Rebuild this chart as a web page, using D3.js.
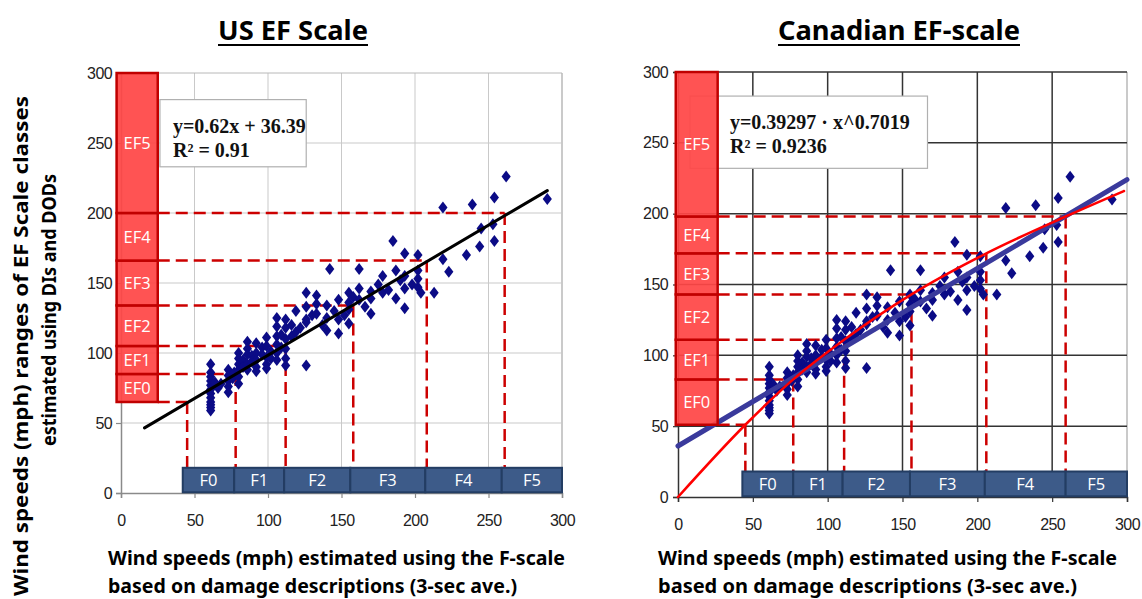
<!DOCTYPE html>
<html>
<head>
<meta charset="utf-8">
<script src="https://cdnjs.cloudflare.com/ajax/libs/d3/7.8.5/d3.min.js"></script>
<style>
  body { margin: 0; background: #fff; }
  svg { display: block; }
</style>
</head>
<body>
<div id="wrapper"></div>
<script>
// damage survey points: F-scale estimate (x) vs EF-scale estimate (y), mph
const fSpeed = [61,61,61,61,61,61,61,61,61,61,61,61, 64,66,68, 73,73,73,73,73, 76,77,
  80,80,80,80,80,80, 83,83, 86,86,86,86,86, 89,89, 92,92,92,92,92, 96,96,
  99,99,99,99,99, 102,102, 106,106,106,106,106,106, 109,109, 112,112,112,112,112,112,
  116,116, 119,119, 122, 126,126,126,126,126, 130, 133,133,133, 137, 140,140,140, 142, 145,
  148,148,148, 152, 155,155,155,155, 158, 162,162,162, 166, 170,170,170, 175, 178,178, 182,
  185, 187,187, 190, 193,193,193,193, 198, 202,202,202,202, 204, 213, 219,219, 223, 235,
  239, 244, 245, 253, 254,254, 262, 290];
const efSpeed = [92,86,83,80,77,74,71,68,65,63,61,59, 79,75,78, 88,84,80,76,72, 82,86,
  100,96,92,88,83,78, 95,90, 108,103,99,92,88, 98,94, 107,100,95,90,87, 104,99,
  111,105,97,92,89, 101,96, 125,119,112,106,100,95, 113,104, 124,118,110,103,96,91,
  120,112, 130,115, 118, 143,133,124,122,91, 127, 141,135,128, 120, 134,125,116, 160, 130,
  138,124,114, 127, 143,136,131,121, 140, 160,146,138, 133, 144,139,128, 149, 155,143, 145,
  180, 159,139, 152, 171,155,146,132, 149, 170,159,153,147, 143, 143, 204,167, 158, 170,
  206, 176, 189, 192, 211,180, 226, 210];

const tickValues = [0, 50, 100, 150, 200, 250, 300];
const fLabels = ["F0", "F1", "F2", "F3", "F4", "F5"];
const efLabels = ["EF0", "EF1", "EF2", "EF3", "EF4", "EF5"];

// US panel
const usFBoxEdges = [42, 77, 111, 156, 207, 259, 300];
const usFLines = [45, 78, 112, 158, 208, 261];
const usEFEdges = [65, 85, 105, 134, 166, 200, 300];
const usFitX = [16, 290];
const usFitY = [46.5, 216];

// Canadian panel
const caFBoxEdges = [43, 77, 110, 155, 205, 259, 300];
const caFLines = [45, 77, 111, 156, 206, 259];
const caEFEdges = [51, 83, 111, 143, 172, 198, 300];
const caLinX = [0, 300];
const caLinY = [36, 224];
const caPowX = [0, 45, 77, 111, 156, 206, 259, 298];
const caPowY = [0, 51, 83, 111, 143, 172, 198, 216];

const svg = d3.select("#wrapper").append("svg")
  .attr("width", 1142).attr("height", 599);

const diamond = "M0,-6L4.6,0L0,6L-4.6,0Z";
const dash = "12,6";
const red = "#cc0000";

function drawPanel(p) {
  const x = d3.scaleLinear().domain([0, 300]).range(p.xRange);
  const y = d3.scaleLinear().domain([0, 300]).range(p.yRange);
  const g = svg.append("g");

  // grid
  g.append("g").selectAll("line").data(tickValues.slice(1)).join("line")
    .attr("x1", d => x(d)).attr("x2", d => x(d))
    .attr("y1", y(0)).attr("y2", y(300))
    .attr("stroke", d => d === 300 ? "#b8b8b8" : p.grid)
    .attr("stroke-width", d => d === 300 ? 1.5 : p.gridWidth);
  g.append("g").selectAll("line").data(tickValues.slice(1)).join("line")
    .attr("x1", x(0)).attr("x2", x(300))
    .attr("y1", d => y(d)).attr("y2", d => y(d))
    .attr("stroke", d => d === 300 ? p.topLine : p.grid)
    .attr("stroke-width", p.gridWidth);

  // axes
  const xAxis = g.append("g")
    .attr("transform", `translate(0,${y(0)})`)
    .call(d3.axisBottom(x).tickValues(tickValues).tickSize(5).tickPadding(17));
  const yAxis = g.append("g")
    .attr("transform", `translate(${x(0)},0)`)
    .call(d3.axisLeft(y).tickValues(tickValues).tickSize(5).tickPadding(p.yPad));
  [xAxis, yAxis].forEach(a => {
    a.select(".domain").attr("stroke", p.axis).attr("stroke-width", 1.5);
    a.selectAll(".tick line").attr("stroke", p.axis).attr("stroke-width", 1.2);
    a.selectAll(".tick text")
      .attr("font-family", "Liberation Sans, Arial, sans-serif")
      .attr("font-size", 16).attr("fill", "#222")
      .attr("letter-spacing", -0.6);
  });

  // equation box (behind the EF column)
  const eq = p.eqBox;
  g.append("rect")
    .attr("x", x(eq[0])).attr("y", y(eq[2]))
    .attr("width", x(eq[1]) - x(eq[0])).attr("height", y(eq[3]) - y(eq[2]))
    .attr("fill", "#fff").attr("stroke", "#b0b0b0").attr("stroke-width", 1.2);

  // dashed guides
  const efRight = x(p.efCol[1]);
  const guides = g.append("g").attr("stroke", red).attr("stroke-width", 2.5)
    .attr("stroke-dasharray", dash).attr("fill", "none");
  guides.selectAll(".h").data(p.fLines).join("line").attr("class", "h")
    .attr("x1", efRight).attr("x2", d => x(d))
    .attr("y1", (d, i) => y(p.efEdges[i])).attr("y2", (d, i) => y(p.efEdges[i]));
  guides.selectAll(".v").data(p.fLines).join("line").attr("class", "v")
    .attr("x1", d => x(d)).attr("x2", d => x(d))
    .attr("y1", (d, i) => y(p.efEdges[i])).attr("y2", y(18));

  // scatter
  g.append("g").selectAll("path").data(fSpeed).join("path")
    .attr("d", diamond)
    .attr("transform", (d, i) => `translate(${x(d)},${y(efSpeed[i])})`)
    .attr("fill", "#0b0b86");

  // fitted lines
  p.fits.forEach(f => {
    const line = d3.line().x(d => x(d[0])).y(d => y(d[1])).curve(d3.curveMonotoneX);
    g.append("path").datum(d3.zip(f.xs, f.ys))
      .attr("d", line).attr("fill", "none")
      .attr("stroke", f.color).attr("stroke-width", f.width)
      .attr("stroke-linecap", "round");
  });

  // EF column
  const efG = g.append("g");
  efG.selectAll("rect").data(efLabels).join("rect")
    .attr("x", x(p.efCol[0])).attr("width", x(p.efCol[1]) - x(p.efCol[0]))
    .attr("y", (d, i) => y(p.efEdges[i + 1]))
    .attr("height", (d, i) => y(p.efEdges[i]) - y(p.efEdges[i + 1]))
    .attr("fill", "#ff4646").attr("fill-opacity", 0.93)
    .attr("stroke", "#c00000").attr("stroke-width", 2.5);
  efG.selectAll("text").data(efLabels).join("text")
    .attr("x", (x(p.efCol[0]) + x(p.efCol[1])) / 2)
    .attr("y", (d, i) => (y(p.efEdges[i]) + y(p.efEdges[i + 1])) / 2)
    .attr("dy", "0.36em").attr("text-anchor", "middle")
    .attr("font-family", "Open Sans, sans-serif").attr("font-size", 16.5)
    .attr("fill", "#fff").text(d => d);

  // F band
  const fG = g.append("g");
  fG.selectAll("rect").data(fLabels).join("rect")
    .attr("x", (d, i) => x(p.fEdges[i]))
    .attr("width", (d, i) => x(p.fEdges[i + 1]) - x(p.fEdges[i]))
    .attr("y", y(18)).attr("height", y(0.5) - y(18))
    .attr("fill", "#3d5b89").attr("stroke", "#233d63").attr("stroke-width", 2);
  fG.selectAll("text").data(fLabels).join("text")
    .attr("x", (d, i) => (x(p.fEdges[i]) + x(p.fEdges[i + 1])) / 2)
    .attr("y", (y(0.5) + y(18)) / 2).attr("dy", "0.36em")
    .attr("text-anchor", "middle")
    .attr("font-family", "Open Sans, sans-serif").attr("font-size", 16.5)
    .attr("fill", "#fff").text(d => d);

  // equation text
  p.eqText.forEach((t, i) => {
    g.append("text")
      .attr("x", x(eq[0]) + p.eqPad).attr("y", y(eq[2]) + 33 + i * 24)
      .attr("font-family", "Liberation Serif, Times New Roman, serif")
      .attr("font-weight", "bold").attr("font-size", 20).attr("fill", "#111")
      .text(t);
  });

  // title
  svg.append("text")
    .attr("x", p.titleX).attr("y", 40).attr("text-anchor", "middle")
    .attr("font-family", "Noto Sans, sans-serif").attr("font-weight", "bold")
    .attr("font-size", 27).attr("textLength", p.titleW)
    .attr("lengthAdjust", "spacingAndGlyphs").text(p.title);
  svg.append("line")
    .attr("x1", p.titleX - p.titleW / 2).attr("x2", p.titleX + p.titleW / 2)
    .attr("y1", 45).attr("y2", 45).attr("stroke", "#000").attr("stroke-width", 2);

  // x axis title (two lines)
  p.xTitle.forEach((t, i) => {
    svg.append("text")
      .attr("x", p.xTitleX).attr("y", 565 + i * 28)
      .attr("font-family", "Noto Sans, sans-serif").attr("font-weight", "bold")
      .attr("font-size", 19).attr("textLength", p.xTitleW[i])
      .attr("lengthAdjust", "spacingAndGlyphs").text(t);
  });
}

drawPanel({
  xRange: [121, 562], yRange: [493, 73],
  grid: "#c9c9c9", gridWidth: 1, topLine: "#b8b8b8", axis: "#8a8a8a", yPad: 4,
  fEdges: usFBoxEdges, fLines: usFLines, efEdges: usEFEdges, efCol: [-3, 25],
  fits: [{ xs: usFitX, ys: usFitY, color: "#000", width: 3 }],
  eqBox: [26.5, 126, 281, 233], eqPad: 13,
  eqText: ["y=0.62x + 36.39", "R² = 0.91"],
  title: "US EF Scale", titleX: 293, titleW: 150,
  xTitle: ["Wind speeds (mph) estimated using the F-scale",
           "based on damage descriptions (3-sec ave.)"],
  xTitleX: 108, xTitleW: [457, 409]
});

drawPanel({
  xRange: [678, 1127], yRange: [497, 72],
  grid: "#333", gridWidth: 1.5, topLine: "#333", axis: "#333", yPad: 5,
  fEdges: caFBoxEdges, fLines: caFLines, efEdges: caEFEdges, efCol: [-1.5, 26.5],
  fits: [{ xs: caLinX, ys: caLinY, color: "#3a3a9c", width: 5 },
         { xs: caPowX, ys: caPowY, color: "#ff0000", width: 2.5 }],
  eqBox: [8, 166.7, 283, 232], eqPad: 40,
  eqText: ["y=0.39297 · x^0.7019", "R² = 0.9236"],
  title: "Canadian EF-scale", titleX: 899, titleW: 242,
  xTitle: ["Wind speeds (mph) estimated using the F-scale",
           "based on damage descriptions (3-sec ave.)"],
  xTitleX: 658, xTitleW: [459, 419]
});

// shared y axis title, rotated
const yTitle = ["Wind speeds (mph) ranges of EF Scale classes", "estimated using DIs and DODs"];
const yTitlePos = [[28, 346, 500], [56, 310, 272]];
yTitle.forEach((t, i) => {
  const [tx, ty, tw] = yTitlePos[i];
  svg.append("text")
    .attr("transform", `translate(${tx},${ty}) rotate(-90)`)
    .attr("text-anchor", "middle")
    .attr("font-family", "Noto Sans, sans-serif").attr("font-weight", "bold")
    .attr("font-size", 19).attr("textLength", tw)
    .attr("lengthAdjust", "spacingAndGlyphs").text(t);
});
</script>
</body>
</html>
